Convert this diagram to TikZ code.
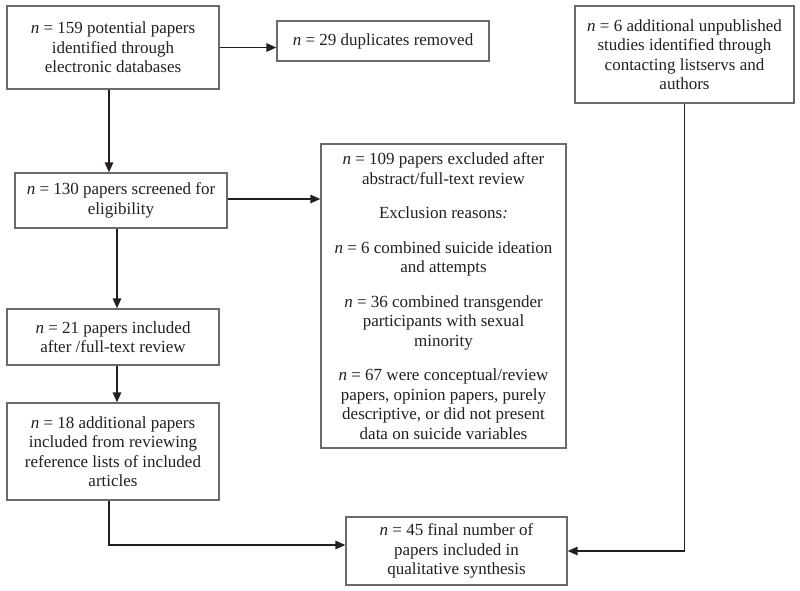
\documentclass[tikz,border=0pt]{standalone}
\usepackage{fontspec}
\setmainfont{Liberation Serif}
\usetikzlibrary{arrows.meta}
\definecolor{boxline}{HTML}{6A6A6A}
\definecolor{txt}{HTML}{231F20}
\begin{document}
\begin{tikzpicture}[x=1pt,y=-1pt,
  box/.style={draw=boxline, line width=1.3pt, fill=white, align=center, text=txt,
    inner sep=2pt, font=\fontsize{17}{19.5}\selectfont},
  arr/.style={draw=txt, line width=1.4pt, -{Triangle[length=10pt,width=8.5pt]}}]
\useasboundingbox[fill=white] (0,0) rectangle (800,590);
\node[box, minimum width=212pt, minimum height=83pt] (A) at (113,47.5)
  {\textit{n} = 159 potential papers\\identified through\\electronic databases};
\node[box, minimum width=212pt, minimum height=40pt] (B) at (383,41)
  {\textit{n} = 29 duplicates removed};
\node[box, minimum width=219pt, minimum height=97pt] (C) at (684.5,54.5)
  {\textit{n} = 6 additional unpublished\\studies identified through\\contacting listservs and\\authors};
\node[box, minimum width=212pt, minimum height=55pt] (D) at (121,200.5)
  {\textit{n} = 130 papers screened for\\eligibility};
\node[box, minimum width=245pt, minimum height=304pt] (E) at (443.5,296)
  {\textit{n} = 109 papers excluded after\\abstract/full-text review\\[15pt]
   Exclusion reasons\textit{:}\\[15pt]
   \textit{n} = 6 combined suicide ideation\\and attempts\\[15pt]
   \textit{n} = 36 combined transgender\\participants with sexual\\minority\\[15pt]
   \textit{n} = 67 were conceptual/review\\papers, opinion papers, purely\\descriptive, or did not present\\data on suicide variables};
\node[box, minimum width=212pt, minimum height=56pt] (F) at (113,337)
  {\textit{n} = 21 papers included\\after /full-text review};
\node[box, minimum width=212pt, minimum height=97pt] (G) at (113,451.5)
  {\textit{n} = 18 additional papers\\included from reviewing\\reference lists of included\\articles};
\node[box, minimum width=221pt, minimum height=68pt] (H) at (456.5,551)
  {\textit{n} = 45 final number of\\papers included in\\qualitative synthesis};
\draw[arr] (A.east) -- (A.east -| B.west);
\draw[arr] ([xshift=-4pt]A.south) -- ([xshift=-4pt]A.south |- D.north);
\draw[arr] ([yshift=1.5pt]D.east) -- ([yshift=1.5pt]D.east -| E.west);
\draw[arr] ([xshift=-4pt]D.south) -- ([xshift=-4pt]D.south |- F.north);
\draw[arr] ([xshift=4pt]F.south) -- ([xshift=4pt]F.south |- G.north);
\draw[arr] ([xshift=-4pt]G.south) |- ([yshift=6pt]H.west);
\draw[arr] (C.south) |- (H.east);
\end{tikzpicture}
\end{document}
